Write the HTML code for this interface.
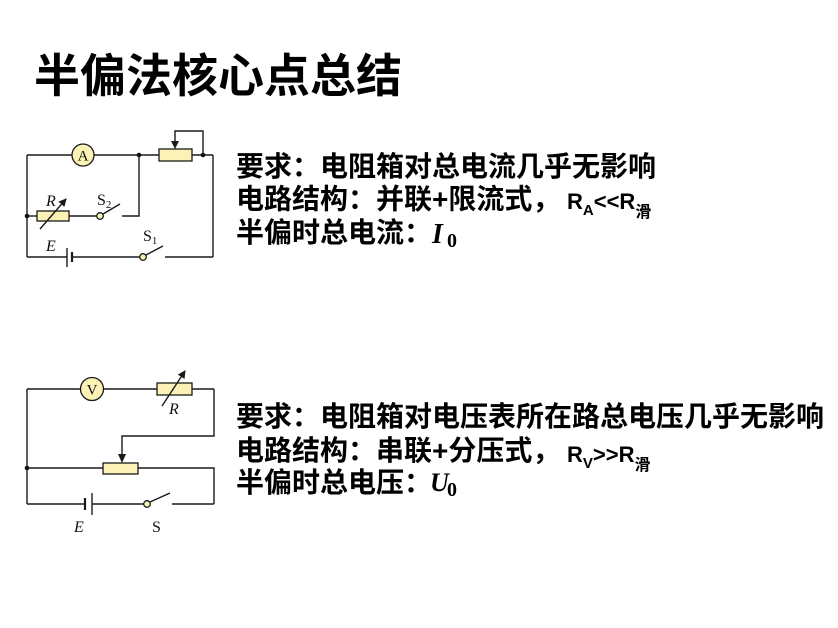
<!DOCTYPE html>
<html>
<head>
<meta charset="utf-8">
<style>
html,body{margin:0;padding:0;background:#fff;}
svg{display:block;}
.cjk{font-family:"Liberation Sans","Noto Sans CJK SC",sans-serif;font-weight:bold;fill:#000;}
.lat{font-family:"Liberation Sans","Noto Sans CJK SC",sans-serif;font-weight:bold;fill:#000;}
.math{font-family:"Liberation Serif",serif;font-weight:bold;font-style:italic;fill:#000;}
.mathn{font-family:"Liberation Serif",serif;font-weight:bold;fill:#000;}
.lbl{font-family:"Liberation Serif",serif;fill:#111;}
.w{stroke:#1a1a1a;stroke-width:1.4;fill:none;}
.box{stroke:#1a1a1a;stroke-width:1.3;fill:#fcf2b6;}
</style>
</head>
<body>
<svg width="838" height="628" viewBox="0 0 838 628" xmlns="http://www.w3.org/2000/svg">
<defs>
<marker id="ah" markerWidth="8" markerHeight="8" refX="7" refY="4" orient="auto" markerUnits="userSpaceOnUse">
<path d="M0,0 L8,4 L0,8 Z" fill="#1a1a1a"/>
</marker>
</defs>

<!-- Title -->
<text class="cjk" x="34" y="92" font-size="46">半偏法核心点总结</text>

<!-- ===== Circuit 1 ===== -->
<g>
<!-- top wire -->
<line class="w" x1="27" y1="155" x2="72" y2="155"/>
<line class="w" x1="94" y1="155" x2="159" y2="155"/>
<line class="w" x1="192" y1="155" x2="213" y2="155"/>
<circle cx="83" cy="155" r="11" class="box"/>
<text class="lbl" x="83" y="160.5" font-size="15" text-anchor="middle">A</text>
<!-- rheostat -->
<rect x="159" y="149" width="33" height="12" class="box"/>
<polyline class="w" points="203,155 203,131 175,131 175,141"/>
<path d="M171,141 L179,141 L175,149 Z" fill="#1a1a1a"/>
<circle cx="203" cy="155" r="2.3" fill="#111"/>
<circle cx="139" cy="155" r="2.3" fill="#111"/>
<!-- right wire -->
<line class="w" x1="213" y1="155" x2="213" y2="257"/>
<!-- left wire -->
<line class="w" x1="27" y1="155" x2="27" y2="257"/>
<circle cx="27" cy="216" r="2.3" fill="#111"/>
<!-- middle branch -->
<line class="w" x1="27" y1="216" x2="37" y2="216"/>
<rect x="37" y="211" width="32" height="10" class="box"/>
<line class="w" x1="69" y1="216" x2="97" y2="216"/>
<circle cx="100" cy="216" r="3.3" class="box"/>
<line class="w" x1="103" y1="214" x2="120" y2="204"/>
<polyline class="w" points="122,216 139,216 139,155"/>
<line x1="40" y1="229" x2="66" y2="199" stroke="#1a1a1a" stroke-width="1.4" marker-end="url(#ah)"/>
<text class="lbl" x="46" y="206" font-size="16" font-style="italic">R</text>
<text class="lbl" x="97" y="205" font-size="16">S<tspan font-size="11" dy="3">2</tspan></text>
<!-- bottom wire -->
<line class="w" x1="27" y1="257" x2="67" y2="257"/>
<line x1="67" y1="248" x2="67" y2="267" stroke="#1a1a1a" stroke-width="1.4"/>
<line x1="72" y1="252" x2="72" y2="262" stroke="#1a1a1a" stroke-width="2.2"/>
<line class="w" x1="72" y1="257" x2="140" y2="257"/>
<circle cx="143" cy="257" r="3.3" class="box"/>
<line class="w" x1="146" y1="255" x2="163" y2="246"/>
<line class="w" x1="165" y1="257" x2="213" y2="257"/>
<text class="lbl" x="46" y="251" font-size="16" font-style="italic">E</text>
<text class="lbl" x="143" y="241" font-size="16">S<tspan font-size="11" dy="3">1</tspan></text>
</g>

<!-- Text block 1 -->
<text class="cjk" x="236" y="176" font-size="28">要求：电阻箱对总电流几乎无影响</text>
<text class="cjk" x="236" y="208.5" font-size="28">电路结构：并联+限流式，</text>
<text class="lat" x="567" y="209" font-size="22">R<tspan font-size="15" dy="6">A</tspan><tspan dy="-6">&lt;&lt;R</tspan><tspan font-size="16" dy="8" class="cjk">滑</tspan></text>
<text class="cjk" x="236" y="242" font-size="28">半偏时总电流：</text>
<text class="math" x="432" y="243" font-size="28">I</text>
<text class="mathn" x="447" y="247" font-size="20">0</text>

<!-- ===== Circuit 2 ===== -->
<g>
<!-- top wire -->
<line class="w" x1="27" y1="389" x2="80.5" y2="389"/>
<line class="w" x1="103.5" y1="389" x2="157" y2="389"/>
<line class="w" x1="192" y1="389" x2="214" y2="389"/>
<circle cx="92" cy="389" r="11.5" class="box"/>
<text class="lbl" x="92" y="394.5" font-size="15" text-anchor="middle">V</text>
<rect x="157" y="383" width="35" height="12" class="box"/>
<line x1="162" y1="406" x2="185" y2="371" stroke="#1a1a1a" stroke-width="1.4" marker-end="url(#ah)"/>
<text class="lbl" x="169" y="414" font-size="16" font-style="italic">R</text>
<!-- right wire and slider -->
<polyline class="w" points="214,389 214,436 122,436 122,454"/>
<path d="M118,454 L126,454 L122,463 Z" fill="#1a1a1a"/>
<!-- middle -->
<line class="w" x1="27" y1="468" x2="103" y2="468"/>
<rect x="103" y="463" width="35" height="11" class="box"/>
<polyline class="w" points="138,468 214,468 214,504"/>
<circle cx="27" cy="468" r="2.3" fill="#111"/>
<!-- left -->
<line class="w" x1="27" y1="389" x2="27" y2="504"/>
<!-- bottom -->
<line class="w" x1="27" y1="504" x2="85" y2="504"/>
<line x1="85" y1="498" x2="85" y2="510" stroke="#1a1a1a" stroke-width="2.2"/>
<line x1="92" y1="493" x2="92" y2="515" stroke="#1a1a1a" stroke-width="1.4"/>
<line class="w" x1="92" y1="504" x2="144" y2="504"/>
<circle cx="147" cy="504" r="3.3" class="box"/>
<line class="w" x1="150" y1="502" x2="170" y2="493"/>
<line class="w" x1="172" y1="504" x2="214" y2="504"/>
<text class="lbl" x="74" y="532" font-size="16" font-style="italic">E</text>
<text class="lbl" x="152" y="532" font-size="16">S</text>
</g>

<!-- Text block 2 -->
<text class="cjk" x="236" y="426" font-size="28">要求：电阻箱对电压表所在路总电压几乎无影响</text>
<text class="cjk" x="236" y="460" font-size="28">电路结构：串联+分压式，</text>
<text class="lat" x="567" y="462" font-size="22">R<tspan font-size="15" dy="6">V</tspan><tspan dy="-6">&gt;&gt;R</tspan><tspan font-size="16" dy="8" class="cjk">滑</tspan></text>
<text class="cjk" x="236" y="492" font-size="28">半偏时总电压：</text>
<text class="math" x="430" y="491" font-size="26">U</text>
<text class="mathn" x="447" y="496" font-size="20">0</text>
</svg>
</body>
</html>
